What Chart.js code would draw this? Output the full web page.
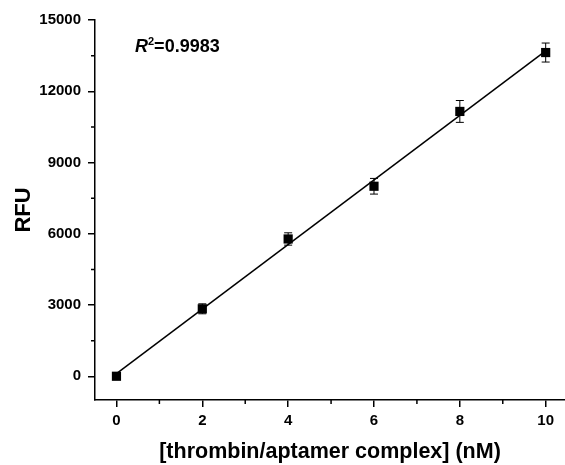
<!DOCTYPE html>
<html>
<head>
<meta charset="utf-8">
<script src="https://cdn.jsdelivr.net/npm/chart.js@4"></script>
<style>
html,body{margin:0;padding:0;background:#fff;}
#wrap{width:565px;height:465px;position:relative;}
</style>
</head>
<body>
<div id="wrap"><canvas id="c"></canvas></div>
<script>
const concentrations = [0, 2, 4, 6, 8, 10];
const rfuValues = [0, 2840, 5780, 8000, 11150, 13630];
const rfuErrors = [50, 210, 260, 330, 460, 400];
const fitX = [0, 10];
const fitY = [110, 13700];
const xTicks = [0, 2, 4, 6, 8, 10];
const xMinorTicks = [1, 3, 5, 7, 9];
const yTicks = [0, 3000, 6000, 9000, 12000, 15000];
const yMinorTicks = [1500, 4500, 7500, 10500, 13500];
const xTitle = '[thrombin/aptamer complex] (nM)';
const yTitle = 'RFU';
const r2Label = '0.9983';

const FONT = '"Liberation Sans", Arial, sans-serif';

const errorBars = {
  id: 'errorBars',
  beforeDatasetsDraw(chart) {
    const {ctx, scales: {x, y}} = chart;
    ctx.save();
    ctx.strokeStyle = '#000';
    ctx.lineWidth = 1;
    concentrations.forEach((c, i) => {
      const px = x.getPixelForValue(c);
      const top = y.getPixelForValue(rfuValues[i] + rfuErrors[i]);
      const bot = y.getPixelForValue(rfuValues[i] - rfuErrors[i]);
      ctx.beginPath();
      ctx.moveTo(px, top); ctx.lineTo(px, bot);
      ctx.moveTo(px - 4, top); ctx.lineTo(px + 4, top);
      ctx.moveTo(px - 4, bot); ctx.lineTo(px + 4, bot);
      ctx.stroke();
    });
    ctx.restore();
  }
};

const extras = {
  id: 'extras',
  afterDraw(chart) {
    const {ctx, scales: {x, y}, chartArea} = chart;
    ctx.save();
    ctx.strokeStyle = '#000';
    ctx.lineWidth = 1.5;
    ctx.beginPath();
    xMinorTicks.forEach(v => {
      const px = x.getPixelForValue(v);
      ctx.moveTo(px, chartArea.bottom); ctx.lineTo(px, chartArea.bottom + 4);
    });
    yMinorTicks.forEach(v => {
      const py = y.getPixelForValue(v);
      ctx.moveTo(chartArea.left, py); ctx.lineTo(chartArea.left - 4, py);
    });
    ctx.stroke();
    // R^2 annotation
    let tx = 135; const base = 52;
    ctx.fillStyle = '#000';
    ctx.textBaseline = 'alphabetic';
    ctx.textAlign = 'left';
    ctx.font = 'italic bold 18px ' + FONT;
    ctx.fillText('R', tx, base);
    tx += ctx.measureText('R').width;
    ctx.font = 'bold 11px ' + FONT;
    ctx.fillText('2', tx, base - 7);
    tx += ctx.measureText('2').width;
    ctx.font = 'bold 18px ' + FONT;
    ctx.fillText('=' + r2Label, tx, base);
    ctx.restore();
  }
};

new Chart(document.getElementById('c'), {
  type: 'scatter',
  data: {
    datasets: [
      {
        type: 'line',
        data: fitX.map((v, i) => ({x: v, y: fitY[i]})),
        borderColor: '#000',
        borderWidth: 1.5,
        pointRadius: 0,
        fill: false
      },
      {
        type: 'scatter',
        data: concentrations.map((v, i) => ({x: v, y: rfuValues[i]})),
        pointStyle: 'rect',
        pointRadius: 6.5,
        backgroundColor: '#000',
        borderColor: '#000',
        borderWidth: 0
      }
    ]
  },
  options: {
    responsive: true,
    maintainAspectRatio: false,
    animation: false,
    layout: {autoPadding: false, padding: {top: 20, right: 0, bottom: 0, left: 0}},
    plugins: {legend: {display: false}, tooltip: {enabled: false}},
    scales: {
      x: {
        type: 'linear',
        min: -0.5,
        max: 10.45,
        afterBuildTicks(s) { s.ticks = xTicks.map(v => ({value: v})); },
        afterFit(s) { s.height = 65; s.paddingLeft = 0; s.paddingRight = 0; },
        grid: {drawOnChartArea: false, drawTicks: true, tickLength: 7, color: '#000', lineWidth: 1.5},
        border: {display: true, color: '#000', width: 1.5},
        ticks: {color: '#000', font: {family: FONT, size: 15, weight: 'bold'}, padding: 5, maxRotation: 0, callback: v => String(v)},
        title: {display: true, text: xTitle, color: '#000', font: {family: FONT, size: 21.5, weight: 'bold'}, padding: {top: 0, bottom: 0}}
      },
      y: {
        type: 'linear',
        min: -1000,
        max: 15000,
        afterBuildTicks(s) { s.ticks = yTicks.map(v => ({value: v})); },
        afterFit(s) { s.width = 95; s.paddingTop = 0; s.paddingBottom = 0; },
        grid: {drawOnChartArea: false, drawTicks: true, tickLength: 7, color: '#000', lineWidth: 1.5},
        border: {display: true, color: '#000', width: 1.5},
        ticks: {color: '#000', font: {family: FONT, size: 15, weight: 'bold'}, padding: 7, callback: v => String(v)},
        title: {display: true, text: yTitle, color: '#000', font: {family: FONT, size: 22, weight: 'bold'}, padding: {top: 11, bottom: 0}}
      }
    }
  },
  plugins: [errorBars, extras]
});
</script>
</body>
</html>
